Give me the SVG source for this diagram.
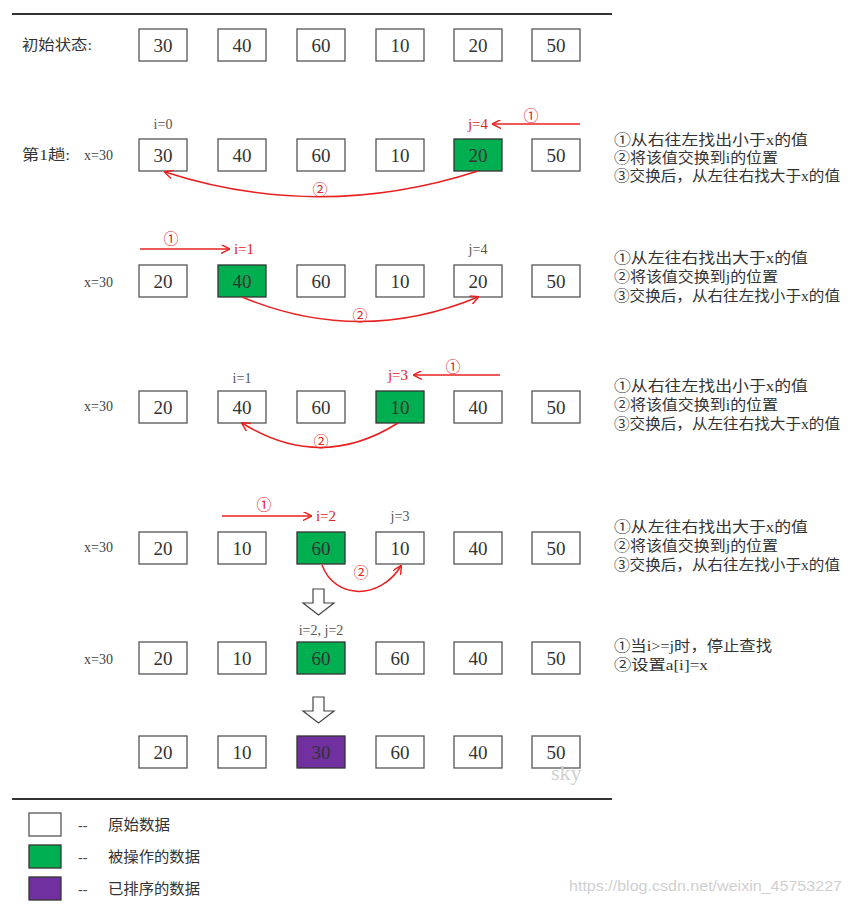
<svg xmlns="http://www.w3.org/2000/svg" width="852" height="904" viewBox="0 0 852 904">
<defs>
<style>
.bx{fill:#fff;stroke:#555;stroke-width:1.3}
.g{fill:#00b050;stroke:#333;stroke-width:1.3}
.p{fill:#7030a0;stroke:#333;stroke-width:1.3}
.n{font-family:"Liberation Serif",serif;font-size:19px;fill:#333;text-anchor:middle;dominant-baseline:central}
.lb{font-family:"Liberation Serif",serif;font-size:14px;fill:#555;text-anchor:middle;dominant-baseline:central}
.rl{font-family:"Liberation Serif",serif;font-size:15px;fill:#e82020;text-anchor:middle;dominant-baseline:central}
.rc{font-family:"Noto Sans CJK SC",sans-serif;font-size:15px;fill:#e82020;text-anchor:middle;dominant-baseline:central}
.x{font-family:"Liberation Serif",serif;font-size:14px;fill:#444;dominant-baseline:central}
.cn{font-family:"Liberation Serif","Noto Sans CJK SC",sans-serif;font-size:15px;fill:#333;dominant-baseline:central}
.red{fill:none;stroke:#e82020;stroke-width:1.5}
.sep{stroke:#333;stroke-width:2}
.hol{fill:#fff;stroke:#444;stroke-width:1.2}
</style>
<marker id="ah" viewBox="0 0 10 10" refX="9" refY="5" markerWidth="9" markerHeight="9" markerUnits="userSpaceOnUse" orient="auto">
<path d="M0,0 L10,5 L0,10" fill="none" stroke="#e82020" stroke-width="1.6"/>
</marker>
</defs>
<rect width="852" height="904" fill="#fff"/>
<line class="sep" x1="12" y1="14" x2="612" y2="14"/>
<line class="sep" x1="12" y1="799" x2="612" y2="799"/>

<g id="row0">
<text class="cn" x="22" y="45" textLength="70" lengthAdjust="spacingAndGlyphs">初始状态:</text>
<rect class="bx" x="139" y="29" width="48" height="32"/><text class="n" x="163" y="45">30</text>
<rect class="bx" x="218" y="29" width="48" height="32"/><text class="n" x="242" y="45">40</text>
<rect class="bx" x="297" y="29" width="48" height="32"/><text class="n" x="321" y="45">60</text>
<rect class="bx" x="376" y="29" width="48" height="32"/><text class="n" x="400" y="45">10</text>
<rect class="bx" x="454" y="29" width="48" height="32"/><text class="n" x="478" y="45">20</text>
<rect class="bx" x="532" y="29" width="48" height="32"/><text class="n" x="556" y="45">50</text>
</g>

<g id="row1">
<text class="cn" x="22" y="155" textLength="48" lengthAdjust="spacingAndGlyphs">第1趟:</text>
<text class="x" x="84" y="155">x=30</text>
<text class="lb" x="163" y="124">i=0</text>
<text class="rl" x="478" y="124">j=4</text>
<text class="rc" x="531" y="114">①</text>
<rect class="bx" x="139" y="139" width="48" height="32"/><text class="n" x="163" y="155">30</text>
<rect class="bx" x="218" y="139" width="48" height="32"/><text class="n" x="242" y="155">40</text>
<rect class="bx" x="297" y="139" width="48" height="32"/><text class="n" x="321" y="155">60</text>
<rect class="bx" x="376" y="139" width="48" height="32"/><text class="n" x="400" y="155">10</text>
<rect class="g" x="454" y="139" width="48" height="32"/><text class="n" x="478" y="155">20</text>
<rect class="bx" x="532" y="139" width="48" height="32"/><text class="n" x="556" y="155">50</text>
<text class="rc" x="320" y="188">②</text>
<text class="cn" x="614" y="140" textLength="194" lengthAdjust="spacingAndGlyphs">①从右往左找出小于x的值</text>
<text class="cn" x="614" y="158" textLength="164" lengthAdjust="spacingAndGlyphs">②将该值交换到i的位置</text>
<text class="cn" x="614" y="176" textLength="226" lengthAdjust="spacingAndGlyphs">③交换后，从左往右找大于x的值</text>
</g>

<g id="row2">
<text class="x" x="84" y="282">x=30</text>
<text class="rc" x="171" y="237">①</text>
<text class="rl" x="244" y="249">i=1</text>
<text class="lb" x="478" y="249">j=4</text>
<rect class="bx" x="139" y="265" width="48" height="32"/><text class="n" x="163" y="281">20</text>
<rect class="g" x="218" y="265" width="48" height="32"/><text class="n" x="242" y="281">40</text>
<rect class="bx" x="297" y="265" width="48" height="32"/><text class="n" x="321" y="281">60</text>
<rect class="bx" x="376" y="265" width="48" height="32"/><text class="n" x="400" y="281">10</text>
<rect class="bx" x="454" y="265" width="48" height="32"/><text class="n" x="478" y="281">20</text>
<rect class="bx" x="532" y="265" width="48" height="32"/><text class="n" x="556" y="281">50</text>
<text class="rc" x="360" y="314">②</text>
<text class="cn" x="614" y="258" textLength="194" lengthAdjust="spacingAndGlyphs">①从左往右找出大于x的值</text>
<text class="cn" x="614" y="277" textLength="164" lengthAdjust="spacingAndGlyphs">②将该值交换到j的位置</text>
<text class="cn" x="614" y="296" textLength="226" lengthAdjust="spacingAndGlyphs">③交换后，从右往左找小于x的值</text>
</g>

<g id="row3">
<text class="x" x="84" y="406">x=30</text>
<text class="lb" x="242" y="378">i=1</text>
<text class="rl" x="398" y="375">j=3</text>
<text class="rc" x="453" y="365">①</text>
<rect class="bx" x="139" y="391" width="48" height="32"/><text class="n" x="163" y="407">20</text>
<rect class="bx" x="218" y="391" width="48" height="32"/><text class="n" x="242" y="407">40</text>
<rect class="bx" x="297" y="391" width="48" height="32"/><text class="n" x="321" y="407">60</text>
<rect class="g" x="376" y="391" width="48" height="32"/><text class="n" x="400" y="407">10</text>
<rect class="bx" x="454" y="391" width="48" height="32"/><text class="n" x="478" y="407">40</text>
<rect class="bx" x="532" y="391" width="48" height="32"/><text class="n" x="556" y="407">50</text>
<text class="rc" x="321" y="440">②</text>
<text class="cn" x="614" y="386" textLength="194" lengthAdjust="spacingAndGlyphs">①从右往左找出小于x的值</text>
<text class="cn" x="614" y="405" textLength="164" lengthAdjust="spacingAndGlyphs">②将该值交换到i的位置</text>
<text class="cn" x="614" y="424" textLength="226" lengthAdjust="spacingAndGlyphs">③交换后，从左往右找大于x的值</text>
</g>

<g id="row4">
<text class="x" x="84" y="547">x=30</text>
<text class="rc" x="264" y="503">①</text>
<text class="rl" x="326" y="516">i=2</text>
<text class="lb" x="400" y="516">j=3</text>
<rect class="bx" x="139" y="532" width="48" height="32"/><text class="n" x="163" y="548">20</text>
<rect class="bx" x="218" y="532" width="48" height="32"/><text class="n" x="242" y="548">10</text>
<rect class="g" x="297" y="532" width="48" height="32"/><text class="n" x="321" y="548">60</text>
<rect class="bx" x="376" y="532" width="48" height="32"/><text class="n" x="400" y="548">10</text>
<rect class="bx" x="454" y="532" width="48" height="32"/><text class="n" x="478" y="548">40</text>
<rect class="bx" x="532" y="532" width="48" height="32"/><text class="n" x="556" y="548">50</text>
<text class="rc" x="361" y="571">②</text>
<text class="cn" x="614" y="527" textLength="194" lengthAdjust="spacingAndGlyphs">①从左往右找出大于x的值</text>
<text class="cn" x="614" y="546" textLength="164" lengthAdjust="spacingAndGlyphs">②将该值交换到j的位置</text>
<text class="cn" x="614" y="565" textLength="226" lengthAdjust="spacingAndGlyphs">③交换后，从右往左找小于x的值</text>
</g>

<g id="arrow1">
<path class="hol" d="M313,589 H324 V603 H334 L318.5,615 L303,603 H313 Z"/>
</g>

<g id="row5">
<text class="x" x="84" y="659">x=30</text>
<text class="lb" x="321" y="630">i=2, j=2</text>
<rect class="bx" x="139" y="642" width="48" height="32"/><text class="n" x="163" y="658">20</text>
<rect class="bx" x="218" y="642" width="48" height="32"/><text class="n" x="242" y="658">10</text>
<rect class="g" x="297" y="642" width="48" height="32"/><text class="n" x="321" y="658">60</text>
<rect class="bx" x="376" y="642" width="48" height="32"/><text class="n" x="400" y="658">60</text>
<rect class="bx" x="454" y="642" width="48" height="32"/><text class="n" x="478" y="658">40</text>
<rect class="bx" x="532" y="642" width="48" height="32"/><text class="n" x="556" y="658">50</text>
<text class="cn" x="614" y="646" textLength="158" lengthAdjust="spacingAndGlyphs">①当i&gt;=j时，停止查找</text>
<text class="cn" x="614" y="665" textLength="94" lengthAdjust="spacingAndGlyphs">②设置a[i]=x</text>
</g>

<g id="arrow2">
<path class="hol" d="M313,697 H324 V711 H334 L318.5,723 L303,711 H313 Z"/>
</g>

<g id="row6">
<rect class="bx" x="139" y="736" width="48" height="32"/><text class="n" x="163" y="752">20</text>
<rect class="bx" x="218" y="736" width="48" height="32"/><text class="n" x="242" y="752">10</text>
<rect class="p" x="297" y="736" width="48" height="32"/><text class="n" x="321" y="752">30</text>
<rect class="bx" x="376" y="736" width="48" height="32"/><text class="n" x="400" y="752">60</text>
<rect class="bx" x="454" y="736" width="48" height="32"/><text class="n" x="478" y="752">40</text>
<rect class="bx" x="532" y="736" width="48" height="32"/><text class="n" x="556" y="752">50</text>
<text x="551" y="780" font-family="Liberation Serif,serif" font-size="22" fill="#d0d0d0">sky</text>
</g>

<g id="legend">
<rect class="bx" x="29" y="813" width="32" height="23"/>
<text class="x" x="78" y="825" fill="#666">--</text>
<text class="cn" x="108" y="825" textLength="62" lengthAdjust="spacingAndGlyphs">原始数据</text>
<rect class="g" x="29" y="845" width="32" height="23"/>
<text class="x" x="78" y="857" fill="#666">--</text>
<text class="cn" x="108" y="857" textLength="92" lengthAdjust="spacingAndGlyphs">被操作的数据</text>
<rect class="p" x="29" y="877" width="32" height="23"/>
<text class="x" x="78" y="889" fill="#666">--</text>
<text class="cn" x="108" y="889" textLength="92" lengthAdjust="spacingAndGlyphs">已排序的数据</text>
</g>

<text x="569" y="891" font-family="Liberation Sans,sans-serif" font-size="15" fill="#cfcfcf" textLength="273" lengthAdjust="spacingAndGlyphs">https://blog.csdn.net/weixin_45753227</text>

<g id="connectors">
<line class="red" x1="580" y1="124" x2="493" y2="124" marker-end="url(#ah)"/>
<path class="red" d="M478,171 Q320,222 165,172" marker-end="url(#ah)"/>
<line class="red" x1="140" y1="249" x2="229" y2="249" marker-end="url(#ah)"/>
<path class="red" d="M242,297 Q360,346 478,297" marker-end="url(#ah)"/>
<line class="red" x1="500" y1="375" x2="414" y2="375" marker-end="url(#ah)"/>
<path class="red" d="M398,423 Q320,472 242,423" marker-end="url(#ah)"/>
<line class="red" x1="222" y1="516" x2="311" y2="516" marker-end="url(#ah)"/>
<path class="red" d="M322,565 C335,600 380,600 401,566" marker-end="url(#ah)"/>
</g>
</svg>
